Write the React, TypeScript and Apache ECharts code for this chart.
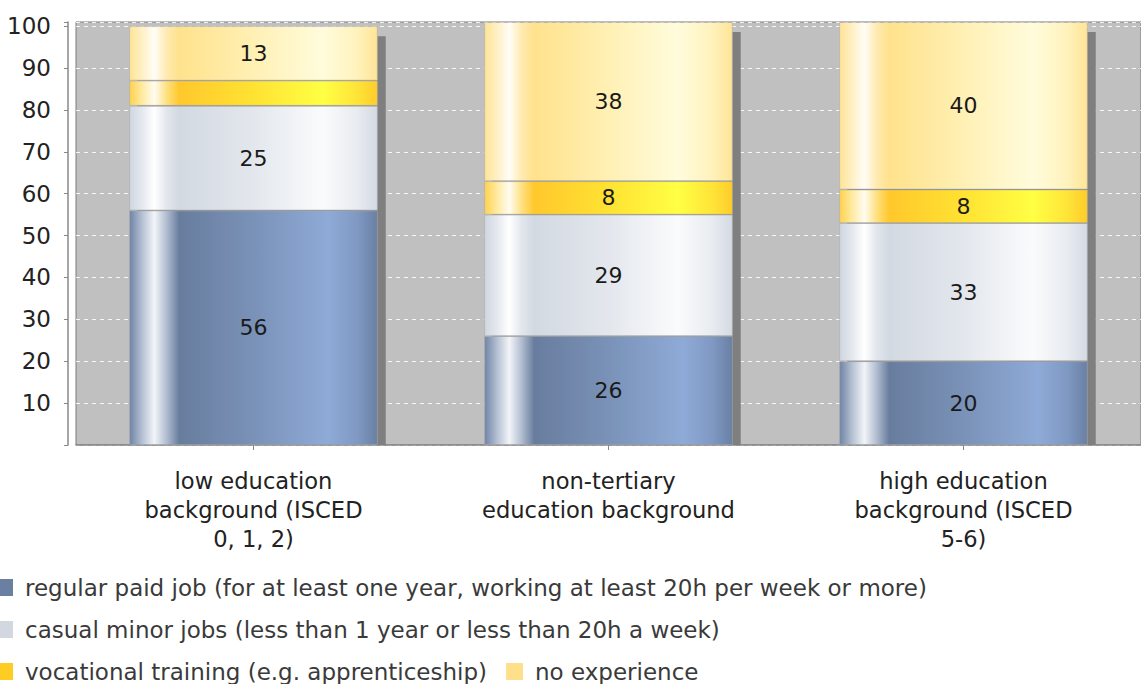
import React, { useEffect, useRef } from "react";
import * as echarts from "echarts";

const categories = [
  "low education\nbackground (ISCED\n0, 1, 2)",
  "non-tertiary\neducation background",
  "high education\nbackground (ISCED\n5-6)",
];
const seriesNames = [
  "regular paid job (for at least one year, working at least 20h per week or more)",
  "casual minor jobs (less than 1 year or less than 20h a week)",
  "vocational training (e.g. apprenticeship)",
  "no experience",
];
const regularPaid = [56, 26, 20];
const casualMinor = [25, 29, 33];
const vocational = [6, 8, 8];
const noExperience = [13, 38, 40];
const yTicks = [10, 20, 30, 40, 50, 60, 70, 80, 90, 100];

const FONT = "DejaVu Sans";

const grad = (stops: [number, string][]) =>
  new echarts.graphic.LinearGradient(
    0, 0, 1, 0,
    stops.map(([offset, color]) => ({ offset, color }))
  );

const gradients = [
  grad([
    [0, "#7084a6"], [0.05, "#b4c0d2"], [0.1, "#f2f4f8"], [0.15, "#b0bccf"],
    [0.2, "#687d9e"], [0.5, "#7a92b8"], [0.8, "#8eaad6"], [0.92, "#7f99c3"], [1, "#6a80a4"],
  ]),
  grad([
    [0, "#d0d7e1"], [0.05, "#e4e8ee"], [0.1, "#ffffff"], [0.15, "#e2e6ec"],
    [0.2, "#d3d9e2"], [0.5, "#e3e7ed"], [0.78, "#fafbfc"], [0.92, "#e8ebf0"], [1, "#d4dae3"],
  ]),
  grad([
    [0, "#ffd24e"], [0.05, "#ffeaa0"], [0.1, "#fffcf0"], [0.15, "#ffe080"],
    [0.2, "#ffc82c"], [0.5, "#ffe232"], [0.78, "#ffff44"], [0.92, "#ffe438"], [1, "#ffcc2a"],
  ]),
  grad([
    [0, "#ffe496"], [0.05, "#fff0c4"], [0.1, "#fffdf6"], [0.15, "#ffeab0"],
    [0.2, "#ffe28c"], [0.5, "#fff0b4"], [0.78, "#fffcdc"], [0.92, "#fff2bc"], [1, "#ffe496"],
  ]),
];
const legendColors = ["#6a7fa1", "#d3d8e0", "#ffcc22", "#ffe08a"];

export default function App() {
  const ref = useRef<HTMLDivElement>(null);

  useEffect(() => {
    if (!ref.current) return;
    const chart = echarts.init(ref.current, null, { renderer: "svg" });
    const datasets = [regularPaid, casualMinor, vocational, noExperience];
    const totals = categories.map((_, i) =>
      datasets.reduce((s, d) => s + d[i], 0)
    );

    const barSeries = datasets.map((d, si) => ({
      name: seriesNames[si],
      type: "bar",
      stack: "total",
      barWidth: "70%",
      z: 3,
      data: d.map((v, i) => ({
        value: v,
        label: { show: !(si === 2 && i === 0) },
      })),
      itemStyle: {
        color: gradients[si],
        borderColor: "rgba(170,170,170,0.7)",
        borderWidth: 0.8,
      },
      label: {
        show: true,
        position: "inside",
        color: "#1a1a1a",
        fontSize: 22,
        fontFamily: FONT,
      },
      emphasis: { disabled: true },
    }));

    const shadowSeries = {
      type: "custom",
      z: 2,
      silent: true,
      data: totals.map((t, i) => [i, t]),
      renderItem: (params: any, api: any) => {
        const top = api.coord([api.value(0), api.value(1)]);
        const base = api.coord([api.value(0), 0]);
        const w = api.size([1, 0])[0] * 0.7;
        const cs = params.coordSys;
        const y0 = top[1] + 10;
        const y1 = Math.min(base[1], cs.y + cs.height);
        return {
          type: "rect",
          shape: { x: top[0] - w / 2 + 8, y: y0, width: w, height: y1 - y0 },
          style: { fill: "#7f7f7f" },
        };
      },
    };

    chart.setOption({
      animation: false,
      grid: {
        left: 76,
        top: 22,
        width: 1074,
        height: 423,
        show: true,
        backgroundColor: "#c0c0c0",
        borderColor: "#7a7a7a",
        borderWidth: 1,
      },
      legend: {
        left: -4,
        top: 576,
        padding: 0,
        width: 1050,
        itemWidth: 17,
        itemHeight: 17,
        itemGap: 19,
        icon: "rect",
        selectedMode: false,
        textStyle: {
          fontSize: 23,
          lineHeight: 22,
          fontFamily: FONT,
          color: "#3a3a3a",
          padding: [0, 0, 0, 7],
        },
        data: seriesNames.map((n, i) => ({
          name: n,
          itemStyle: { color: legendColors[i], borderWidth: 0 },
        })),
      },
      xAxis: {
        type: "category",
        data: categories,
        offset: 8,
        axisLine: { show: true, lineStyle: { color: "#888", width: 1.5 } },
        axisTick: { show: true, alignWithLabel: true, length: 5, lineStyle: { color: "#888" } },
        axisLabel: {
          interval: 0,
          margin: 13,
          fontSize: 22.6,
          lineHeight: 29,
          fontFamily: FONT,
          color: "#222",
        },
        splitLine: { show: false },
      },
      yAxis: {
        type: "value",
        min: 0,
        max: 101,
        interval: 10,
        offset: 8,
        axisLine: { show: true, lineStyle: { color: "#888", width: 1.5 } },
        axisTick: { show: true, length: 4, lineStyle: { color: "#888" } },
        axisLabel: {
          margin: 17,
          fontSize: 23,
          fontFamily: FONT,
          color: "#222",
          formatter: (v: number) => (yTicks.includes(v) ? String(v) : ""),
        },
        splitLine: {
          show: true,
          lineStyle: { color: "rgba(255,255,255,0.85)", type: [4, 4], width: 1 },
        },
      },
      series: [shadowSeries, ...barSeries],
    });

    return () => chart.dispose();
  }, []);

  return (
    <div
      ref={ref}
      style={{ position: "fixed", left: 0, top: 0, width: 1141, height: 684, background: "#fff" }}
    />
  );
}
